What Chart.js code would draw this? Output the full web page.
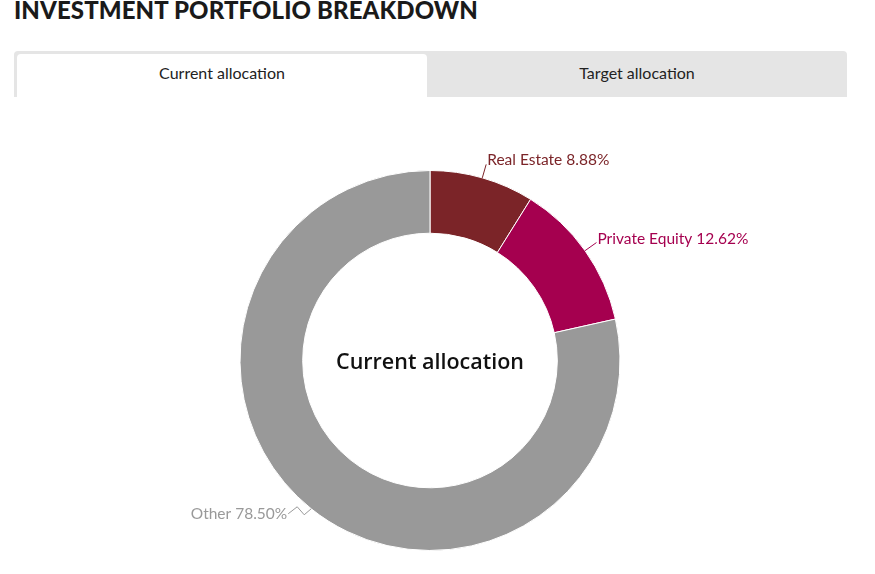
<!DOCTYPE html>
<html>
<head>
<meta charset="utf-8">
<script src="https://cdn.jsdelivr.net/npm/chart.js@4.4.1/dist/chart.umd.min.js"></script>
<style>
  html, body { margin: 0; padding: 0; background: #fff; }
  body { width: 875px; height: 574px; position: relative; overflow: hidden; font-family: Lato, "Open Sans", sans-serif; }
  h1 { position: absolute; left: 14px; top: -5px; margin: 0; font-size: 24px; font-weight: 900; color: #1a1a1a; letter-spacing: 0.1px; }
  .tabs { position: absolute; left: 14px; top: 51px; width: 833px; height: 46px; background: #e5e5e5; border-radius: 4px 4px 0 0; }
  .tab { position: absolute; top: 3px; height: 43px; line-height: 38px; text-align: center; font-size: 16px; color: #222; }
  .tab.active { left: 3px; width: 410px; background: #fff; border-radius: 4px 4px 0 0; }
  .tab.other { left: 413px; width: 420px; }
  #wrap { position: absolute; left: 0; top: 97px; width: 875px; height: 477px; }
</style>
</head>
<body>
<h1>INVESTMENT PORTFOLIO BREAKDOWN</h1>
<div class="tabs">
  <div class="tab active">Current allocation</div>
  <div class="tab other">Target allocation</div>
</div>
<div id="wrap"><canvas id="allocChart"></canvas></div>
<script>
// data
const categories = ['Real Estate', 'Private Equity', 'Other'];
const allocation = [8.88, 12.62, 78.50];
const palette = ['#7b2428', '#a5004f', '#999999'];
const centerTitle = 'Current allocation';

// leader lines + labels next to each slice
const sliceLabels = {
    id: 'sliceLabels',
    afterDatasetsDraw(chart) {
        const ctx = chart.ctx;
        const arcs = chart.getDatasetMeta(0).data;
        ctx.save();
        ctx.font = '15.5px Lato, "Open Sans", sans-serif';
        ctx.lineWidth = 1;
        arcs.forEach((arc, i) => {
            const { x, y, startAngle, endAngle, outerRadius } = arc.getProps(['x', 'y', 'startAngle', 'endAngle', 'outerRadius'], true);
            const mid = (startAngle + endAngle) / 2;
            const px = x + Math.cos(mid) * outerRadius;
            const py = y + Math.sin(mid) * outerRadius;
            const text = categories[i] + ' ' + allocation[i].toFixed(2) + '%';
            ctx.strokeStyle = palette[i];
            ctx.fillStyle = palette[i];
            ctx.textBaseline = 'middle';
            ctx.beginPath();
            ctx.moveTo(px, py);
            if (Math.cos(mid) >= 0) {
                const qx = px + Math.cos(mid) * 14, qy = py + Math.sin(mid) * 14;
                ctx.lineTo(qx, qy);
                ctx.stroke();
                ctx.textAlign = 'left';
                ctx.fillText(text, qx + 1, qy - 4);
            } else {
                ctx.lineTo(px - 7, py + 6);
                ctx.lineTo(px - 14, py - 2);
                ctx.lineTo(px - 23, py + 5);
                ctx.stroke();
                ctx.textAlign = 'right';
                ctx.fillText(text, px - 24, py + 5);
            }
        });
        // centre caption
        const c = arcs[0];
        ctx.fillStyle = '#111';
        ctx.textAlign = 'center';
        ctx.textBaseline = 'middle';
        ctx.font = '600 21.5px "Open Sans", sans-serif';
        ctx.fillText(centerTitle, c.x, c.y + 2);
        ctx.restore();
    }
};

new Chart(document.getElementById('allocChart'), {
    type: 'doughnut',
    data: {
        labels: categories,
        datasets: [{
            data: allocation,
            backgroundColor: palette,
            borderColor: '#ffffff',
            borderWidth: 1
        }]
    },
    options: {
        responsive: true,
        maintainAspectRatio: false,
        animation: false,
        cutout: '67%',
        layout: { padding: { top: 73, bottom: 23, left: 100, right: 115 } },
        plugins: { legend: { display: false }, tooltip: { enabled: false } }
    },
    plugins: [sliceLabels]
});
</script>
</body>
</html>
